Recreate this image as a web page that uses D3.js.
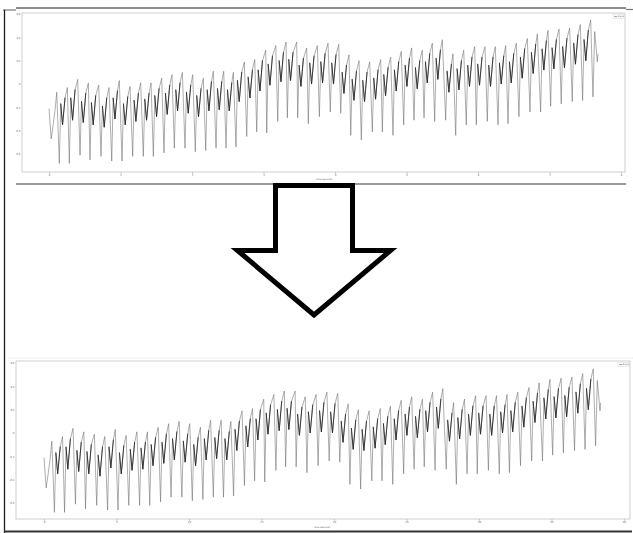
<!DOCTYPE html>
<html>
<head>
<meta charset="utf-8">
<script src="https://cdn.jsdelivr.net/npm/d3@7"></script>
<style>
  html, body { margin: 0; padding: 0; background: #fff; }
  svg { display: block; }
  text { font-family: "DejaVu Sans", "Liberation Sans", sans-serif; }
</style>
</head>
<body>
<svg id="fig" width="633" height="533"></svg>
<script>
// ---- signal, one entry per heartbeat (time in seconds, amplitude) ----
const leadInTimes  = [0, 0.03, 0.06, 0.085];
const leadInValues = [-0.21, -0.47, -0.34, -0.22];

const peakTimes = [0.108, 0.256, 0.401, 0.550, 0.695, 0.839, 0.983, 1.133, 1.282, 1.427,
  1.576, 1.720, 1.865, 2.010, 2.158, 2.298, 2.443, 2.578, 2.732, 2.877,
  3.031, 3.171, 3.315, 3.464, 3.604, 3.753, 3.902, 4.052, 4.196, 4.336,
  4.485, 4.639, 4.779, 4.927, 5.072, 5.221, 5.361, 5.501, 5.650, 5.800,
  5.954, 6.098, 6.242, 6.387, 6.536, 6.690, 6.830, 6.979, 7.133, 7.282,
  7.431, 7.576];
const peakValues = [-0.07, -0.03, 0.04, 0.01, -0.01, -0.03, 0.03, -0.02, 0.01, 0.01,
  0.05, 0.08, 0.10, 0.08, 0.05, 0.11, 0.11, 0.10, 0.19, 0.21,
  0.29, 0.33, 0.36, 0.36, 0.31, 0.33, 0.35, 0.34, 0.25, 0.20,
  0.19, 0.21, 0.23, 0.28, 0.31, 0.29, 0.35, 0.38, 0.26, 0.29,
  0.32, 0.32, 0.32, 0.33, 0.35, 0.39, 0.43, 0.46, 0.47, 0.48,
  0.51, 0.55];

const troughTimes = [0.144, 0.284, 0.434, 0.573, 0.727, 0.877, 1.021, 1.170, 1.319, 1.459,
  1.608, 1.753, 1.902, 2.046, 2.192, 2.336, 2.476, 2.615, 2.765, 2.905,
  3.045, 3.199, 3.333, 3.478, 3.627, 3.781, 3.934, 4.080, 4.220, 4.368,
  4.522, 4.662, 4.811, 4.961, 5.105, 5.245, 5.394, 5.548, 5.688, 5.836,
  5.976, 6.130, 6.280, 6.420, 6.573, 6.727, 6.876, 7.016, 7.164, 7.318,
  7.463, 7.608];
const troughValues = [-0.68, -0.68, -0.61, -0.65, -0.62, -0.66, -0.66, -0.62, -0.62, -0.62,
  -0.59, -0.55, -0.55, -0.58, -0.57, -0.55, -0.55, -0.54, -0.45, -0.41,
  -0.42, -0.32, -0.29, -0.29, -0.34, -0.28, -0.24, -0.25, -0.44, -0.48,
  -0.41, -0.41, -0.44, -0.35, -0.31, -0.29, -0.32, -0.31, -0.44, -0.35,
  -0.35, -0.32, -0.35, -0.34, -0.28, -0.24, -0.24, -0.19, -0.17, -0.15,
  -0.14, -0.11];

// recovery after each trough, the notch below it, and the shoulder before the next peak
const reboundTimes = [0.164, 0.304, 0.454, 0.593, 0.747, 0.897, 1.041, 1.190, 1.339, 1.479,
  1.628, 1.773, 1.922, 2.066, 2.212, 2.356, 2.496, 2.635, 2.785, 2.925,
  3.065, 3.219, 3.353, 3.498, 3.647, 3.801, 3.954, 4.100, 4.240, 4.388,
  4.542, 4.682, 4.831, 4.981, 5.125, 5.265, 5.414, 5.568, 5.708, 5.856,
  5.996, 6.150, 6.300, 6.440, 6.593, 6.747, 6.896, 7.036, 7.184, 7.338, 7.483];
const reboundValues = [-0.17, -0.12, -0.15, -0.16, -0.19, -0.12, -0.17, -0.14, -0.13, -0.10,
  -0.08, -0.05, -0.07, -0.10, -0.05, -0.04, -0.05, 0.03, 0.06, 0.12,
  0.17, 0.20, 0.21, 0.16, 0.18, 0.19, 0.18, 0.10, 0.04, 0.03,
  0.05, 0.08, 0.12, 0.16, 0.14, 0.19, 0.22, 0.11, 0.13, 0.16,
  0.17, 0.16, 0.18, 0.19, 0.23, 0.27, 0.30, 0.31, 0.32, 0.35, 0.38];

const dipTimes = [0.189, 0.329, 0.479, 0.618, 0.772, 0.922, 1.066, 1.215, 1.364, 1.504,
  1.653, 1.798, 1.947, 2.091, 2.237, 2.381, 2.521, 2.660, 2.810, 2.950,
  3.090, 3.244, 3.378, 3.523, 3.672, 3.826, 3.979, 4.125, 4.265, 4.413,
  4.567, 4.707, 4.856, 5.006, 5.150, 5.290, 5.439, 5.593, 5.733, 5.881,
  6.021, 6.175, 6.325, 6.465, 6.618, 6.772, 6.921, 7.061, 7.209, 7.363, 7.508];
const dipValues = [-0.35, -0.31, -0.33, -0.35, -0.37, -0.30, -0.35, -0.32, -0.31, -0.28,
  -0.26, -0.23, -0.25, -0.28, -0.23, -0.22, -0.23, -0.15, -0.12, -0.06,
  -0.01, 0.02, 0.03, -0.02, 0.00, 0.01, 0.00, -0.08, -0.14, -0.15,
  -0.13, -0.10, -0.06, -0.02, -0.04, 0.01, 0.04, -0.07, -0.05, -0.02,
  -0.01, -0.02, 0.00, 0.01, 0.05, 0.09, 0.12, 0.13, 0.14, 0.17, 0.20];

const shoulderTimes = [0.224, 0.364, 0.514, 0.653, 0.807, 0.957, 1.101, 1.250, 1.399, 1.539,
  1.688, 1.833, 1.982, 2.126, 2.272, 2.416, 2.556, 2.695, 2.845, 2.985,
  3.125, 3.279, 3.413, 3.558, 3.707, 3.861, 4.014, 4.160, 4.300, 4.448,
  4.602, 4.742, 4.891, 5.041, 5.185, 5.325, 5.474, 5.628, 5.768, 5.916,
  6.056, 6.210, 6.360, 6.500, 6.653, 6.807, 6.956, 7.096, 7.244, 7.398, 7.543];
const shoulderValues = [-0.12, -0.05, -0.08, -0.10, -0.12, -0.06, -0.11, -0.08, -0.08, -0.04,
  -0.01, 0.01, -0.01, -0.04, 0.02, 0.02, 0.01, 0.10, 0.12, 0.20,
  0.24, 0.27, 0.27, 0.22, 0.24, 0.26, 0.25, 0.16, 0.11, 0.10,
  0.12, 0.14, 0.19, 0.22, 0.20, 0.26, 0.29, 0.17, 0.20, 0.23,
  0.23, 0.23, 0.24, 0.26, 0.30, 0.34, 0.37, 0.38, 0.39, 0.42, 0.46];

const tailTimes  = [7.632, 7.669, 7.678];
const tailValues = [0.45, 0.19, 0.26];

// ---- axes ----
const timeTicks = [0, 1, 2, 3, 4, 5, 6, 7, 8];
const topTimeLabels = ["0", "1", "2", "3", "4", "5", "6", "7", "8"];
const bottomTimeLabels = ["0", "5", "10", "15", "20", "25", "30", "35", "40"];
const valueTicks = [0.6, 0.4, 0.2, 0, -0.2, -0.4, -0.6];
const valueLabels = ["0.6", "0.4", "0.2", "0", "-0.2", "-0.4", "-0.6"];
const xTitle = "Time (seconds)";
const seriesName = "Signal";

// assemble the trace in time order; the slow part of each beat is kept apart
// so it can be drawn a little denser
const trace = [];
const slowPart = [];
leadInTimes.forEach((t, i) => trace.push([t, leadInValues[i]]));
peakTimes.forEach((t, i) => {
  trace.push([t, peakValues[i]]);
  trace.push([troughTimes[i], troughValues[i]]);
  if (i < reboundTimes.length) {
    const r = [reboundTimes[i], reboundValues[i]];
    const d = [dipTimes[i], dipValues[i]];
    const s = [shoulderTimes[i], shoulderValues[i]];
    trace.push(r, d, s);
    slowPart.push([r, d, s]);
  }
});
tailTimes.forEach((t, i) => trace.push([t, tailValues[i]]));

const svg = d3.select("#fig");

function drawPanel(p) {
  const g = svg.append("g");
  const x = d3.scaleLinear().domain(p.xDomain).range([p.left, p.right]);
  const y = d3.scaleLinear().domain(p.yDomain).range([p.bottom, p.top]);

  g.append("rect")
    .attr("x", p.left).attr("y", p.top)
    .attr("width", p.right - p.left).attr("height", p.bottom - p.top)
    .attr("fill", "#fff").attr("stroke", "#cfcfcf").attr("stroke-width", 1);

  // x axis
  const xAxis = d3.axisBottom(x)
    .tickValues(timeTicks)
    .tickSize(2)
    .tickPadding(0.5)
    .tickFormat((d, i) => p.timeLabels[i]);
  const xg = g.append("g").attr("transform", `translate(0,${p.bottom})`).call(xAxis);
  xg.select(".domain").remove();
  xg.selectAll("line").attr("stroke", "#9a9a9a").attr("stroke-width", 0.5);
  xg.selectAll("text").attr("font-size", 2.6).attr("fill", "#666");

  // y axis
  const yAxis = d3.axisLeft(y)
    .tickValues(valueTicks)
    .tickSize(0)
    .tickPadding(1.5)
    .tickFormat((d, i) => valueLabels[i]);
  const yg = g.append("g").attr("transform", `translate(${p.left},0)`).call(yAxis);
  yg.select(".domain").remove();
  yg.selectAll("text").attr("font-size", 2.6).attr("fill", "#666");

  g.append("text")
    .attr("x", p.titleX).attr("y", p.titleY)
    .attr("text-anchor", "middle")
    .attr("font-size", 2.2).attr("fill", "#555")
    .text(xTitle);

  // the trace: thin grey line, with the slow segments of each beat darker
  const line = d3.line().x(d => x(d[0])).y(d => y(d[1]));
  g.append("path")
    .datum(trace)
    .attr("d", line)
    .attr("fill", "none")
    .attr("stroke", "#6a6a6a")
    .attr("stroke-width", 0.55)
    .attr("stroke-linejoin", "round");
  g.append("g").selectAll("path")
    .data(slowPart)
    .join("path")
    .attr("d", line)
    .attr("fill", "none")
    .attr("stroke", "#2a2a2a")
    .attr("stroke-width", 0.9)
    .attr("stroke-linecap", "round")
    .attr("stroke-linejoin", "round");

  // legend
  const lg = g.append("g").attr("transform", `translate(${p.right - 12},${p.top + 1.5})`);
  lg.append("rect").attr("width", 11).attr("height", 4.2)
    .attr("fill", "#fff").attr("stroke", "#d8d8d8").attr("stroke-width", 0.5);
  lg.append("line").attr("x1", 1.2).attr("x2", 4).attr("y1", 2.1).attr("y2", 2.1)
    .attr("stroke", "#3a3a3a").attr("stroke-width", 0.5);
  lg.append("text").attr("x", 4.8).attr("y", 2.9)
    .attr("font-size", 2.1).attr("fill", "#555").text(seriesName);
}

drawPanel({
  left: 22, right: 625, top: 13, bottom: 172,
  xDomain: [-0.378, 8.056], yDomain: [-0.754, 0.609],
  timeLabels: topTimeLabels, titleX: 324, titleY: 179.5
});

drawPanel({
  left: 16, right: 630, top: 361, bottom: 519,
  xDomain: [-0.386, 8.083], yDomain: [-0.737, 0.617],
  timeLabels: bottomTimeLabels, titleX: 322, titleY: 527.5
});

// page rules around the two figures
const rules = svg.append("g");
rules.append("line").attr("x1", 16).attr("x2", 626).attr("y1", 8).attr("y2", 8)
  .attr("stroke", "#1e1e1e").attr("stroke-width", 1.2);
rules.append("line").attr("x1", 3).attr("x2", 16).attr("y1", 10).attr("y2", 10)
  .attr("stroke", "#777").attr("stroke-width", 1.2);
rules.append("line").attr("x1", 626).attr("x2", 633).attr("y1", 9.5).attr("y2", 9.5)
  .attr("stroke", "#777").attr("stroke-width", 1.2);
rules.append("line").attr("x1", 4.5).attr("x2", 4.5).attr("y1", 10).attr("y2", 533)
  .attr("stroke", "#1e1e1e").attr("stroke-width", 1.3);
rules.append("line").attr("x1", 16).attr("x2", 626).attr("y1", 184).attr("y2", 184)
  .attr("stroke", "#333").attr("stroke-width", 1);
rules.append("line").attr("x1", 8).attr("x2", 633).attr("y1", 358).attr("y2", 358)
  .attr("stroke", "#e4e4e4").attr("stroke-width", 1).attr("stroke-dasharray", "1,1");
rules.append("line").attr("x1", 4).attr("x2", 632).attr("y1", 531.5).attr("y2", 531.5)
  .attr("stroke", "#333").attr("stroke-width", 2);

// downward arrow between the figures
const arrowOutline = [[275.5, 185.5], [352.5, 185.5], [352.5, 250.5], [390.5, 250.5],
  [314, 315], [237.5, 250.5], [275.5, 250.5]];
svg.append("path")
  .attr("d", d3.line()(arrowOutline) + "Z")
  .attr("fill", "#fff")
  .attr("stroke", "#000")
  .attr("stroke-width", 5)
  .attr("stroke-linejoin", "miter")
  .attr("stroke-miterlimit", 10);
</script>
</body>
</html>
